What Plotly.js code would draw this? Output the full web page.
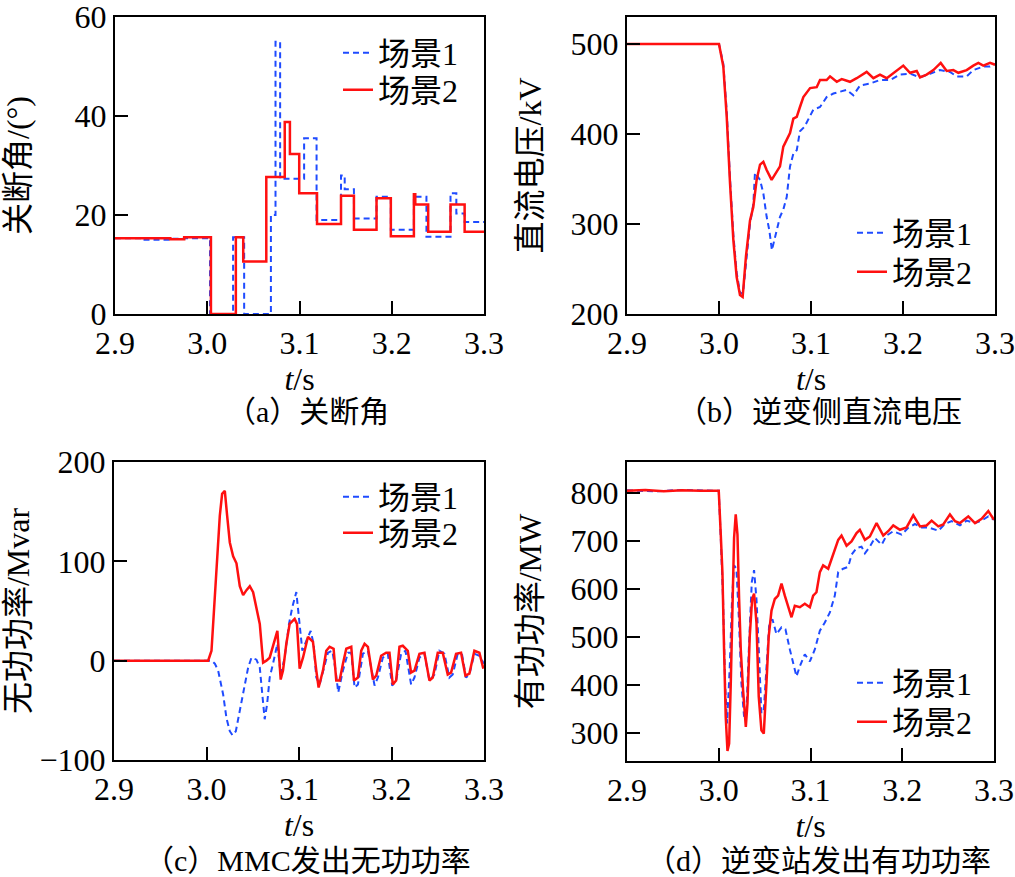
<!DOCTYPE html>
<html>
<head>
<meta charset="utf-8">
<script src="https://cdn.plot.ly/plotly-3.0.1.min.js"></script>
<style>html,body{margin:0;padding:0;background:#fff;}#chart{width:1015px;height:877px;}</style>
</head>
<body>
<div id="chart"></div>
<script>
// ---------- Data ----------
const seriesNames = ["场景1", "场景2"];
const xTickVals = [2.9, 3.0, 3.1, 3.2, 3.3];
const xTickText = ["2.9", "3.0", "3.1", "3.2", "3.3"];

// (a) 关断角 — step signals (value holds from each time until next)
const aT1 = [2.9, 2.93, 2.96, 2.975, 3.003, 3.028, 3.040, 3.069, 3.074, 3.079, 3.105, 3.1185, 3.145, 3.149, 3.159, 3.1835, 3.199, 3.224, 3.2376, 3.2637, 3.270, 3.279, 3.3];
const aV1 = [15.3, 15.0, 15.2, 15.3, 0, 15.5, 0, 20.0, 55.0, 27.3, 35.5, 19.0, 28.0, 25.2, 19.3, 23.7, 17.0, 23.7, 15.6, 24.4, 20.3, 18.6, 18.6];
const aT2 = [2.9, 2.96, 2.975, 3.004, 3.031, 3.039, 3.064, 3.084, 3.0896, 3.0997, 3.119, 3.145, 3.159, 3.1835, 3.199, 3.224, 3.2255, 3.2395, 3.2637, 3.279, 3.3];
const aV2 = [15.3, 15.1, 15.5, 0, 15.5, 10.6, 27.7, 38.8, 32.3, 24.4, 18.2, 23.9, 17.0, 23.4, 15.7, 24.2, 22.1, 16.6, 22.1, 16.6, 16.6];

// (b) 逆变侧直流电压
const bT1 = [2.9, 3.0, 3.0047, 3.0084, 3.012, 3.0156, 3.0192, 3.0228, 3.026, 3.0293, 3.0337, 3.0373, 3.0391, 3.0446, 3.0482, 3.0518, 3.0547, 3.0575, 3.0609, 3.0663, 3.0699, 3.0736, 3.0772, 3.0808, 3.0845, 3.088, 3.0929, 3.099, 3.1025, 3.1098, 3.117, 3.1243, 3.1315, 3.1388, 3.146, 3.1533, 3.1641, 3.175, 3.1859, 3.1967, 3.2076, 3.2185, 3.2293, 3.2402, 3.2511, 3.2583, 3.2692, 3.2764, 3.2873, 3.2946, 3.3];
const bV1 = [500, 500, 478, 425, 350, 288, 246, 224, 222, 258, 300, 322, 357, 349, 334, 308, 293, 271, 286, 308, 316, 330, 364, 378, 382, 403, 408, 419, 427, 430, 441, 445, 447, 449, 443, 454, 456, 460, 460, 466, 467, 463, 467, 471, 469, 464, 464, 471, 475, 475, 478];
const bT2 = [2.9, 3.0, 3.0047, 3.0084, 3.012, 3.0156, 3.0192, 3.0228, 3.0257, 3.0293, 3.0337, 3.0373, 3.0409, 3.0446, 3.0482, 3.0518, 3.0572, 3.0627, 3.0663, 3.0699, 3.0736, 3.0772, 3.0808, 3.0845, 3.088, 3.0917, 3.099, 3.1062, 3.1098, 3.117, 3.1207, 3.128, 3.1334, 3.1424, 3.1497, 3.1605, 3.1678, 3.175, 3.1823, 3.1931, 3.2003, 3.2076, 3.2149, 3.2185, 3.2257, 3.233, 3.241, 3.2475, 3.2547, 3.2602, 3.2692, 3.2764, 3.2819, 3.2873, 3.2946, 3.3];
const bV2 = [500, 500, 475, 419, 345, 282, 241, 221, 219, 264, 304, 319, 349, 366, 369, 360, 349, 358, 364, 386, 393, 401, 417, 419, 430, 441, 451, 452, 460, 460, 464, 458, 461, 458, 462, 469, 462, 466, 462, 470, 476, 468, 470, 463, 466, 471, 479, 470, 471, 468, 471, 476, 479, 476, 479, 477];

// (c) MMC发出无功功率
const cT1 = [2.9, 3.0054, 3.0090, 3.0126, 3.0180, 3.0216, 3.0252, 3.0281, 3.0317, 3.0360, 3.0414, 3.0450, 3.0486, 3.0540, 3.0576, 3.0601, 3.0629, 3.0655, 3.0683, 3.0719, 3.0766, 3.0802, 3.0845, 3.0892, 3.0928, 3.0971, 3.0996, 3.1036, 3.1079, 3.1126, 3.1158, 3.1187, 3.1223, 3.1259, 3.1313, 3.1360, 3.1396, 3.1424, 3.1475, 3.1529, 3.1565, 3.1601, 3.1637, 3.1691, 3.1745, 3.1817, 3.1853, 3.1906, 3.1960, 3.2007, 3.2050, 3.2104, 3.2151, 3.2212, 3.2248, 3.2302, 3.2356, 3.2410, 3.2464, 3.2518, 3.2572, 3.2626, 3.2662, 3.2716, 3.2763, 3.2806, 3.2842, 3.2896, 3.2950, 3.3];
const cV1 = [0, 0, -3, -10, -34, -58, -71, -75, -71, -51, -24, -7, 3, 1, -7, -34, -59, -44, -17, -3, 17, -14, 3, 37, 54, 69, 44, 10, 20, 30, 17, -17, -24, -10, 8, 10, -10, -32, -10, 8, 8, -27, -24, 7, 10, -25, -17, 3, 7, -25, -20, 7, 10, -24, -17, 3, 7, -20, -14, 10, 7, -17, -14, 7, 6, -17, -14, 7, 5, -3];
const cT2 = [2.9, 3.0018, 3.0054, 3.0090, 3.0115, 3.0144, 3.0169, 3.0198, 3.0223, 3.0252, 3.0288, 3.0324, 3.0360, 3.0396, 3.0432, 3.0468, 3.0504, 3.0540, 3.0576, 3.0612, 3.0647, 3.0683, 3.0719, 3.0766, 3.0802, 3.0827, 3.0863, 3.0899, 3.0953, 3.0978, 3.1007, 3.1043, 3.1097, 3.1151, 3.1187, 3.1212, 3.1259, 3.1295, 3.1331, 3.1374, 3.1403, 3.1439, 3.1475, 3.1511, 3.1565, 3.1594, 3.1637, 3.1673, 3.1709, 3.1745, 3.1799, 3.1835, 3.1888, 3.1942, 3.1978, 3.2014, 3.2050, 3.2086, 3.2122, 3.2176, 3.2212, 3.2248, 3.2302, 3.2356, 3.2410, 3.2446, 3.2500, 3.2554, 3.2608, 3.2644, 3.2698, 3.2752, 3.2799, 3.2842, 3.2896, 3.2950, 3.2993];
const cV2 = [0, 0, 10, 61, 95, 146, 168, 171, 146, 119, 105, 98, 75, 66, 71, 75, 69, 54, 37, -2, 0, 3, 14, 30, -19, -10, 17, 37, 42, 37, -8, 3, 24, 19, -10, -27, -10, 10, 14, 12, -20, -20, -3, 12, 14, -20, -17, 10, 17, 14, -19, -15, 5, 8, 8, -24, -20, 14, 15, 10, -12, -10, 7, 8, -20, -17, 8, 8, -14, -12, 7, 8, -15, -13, 10, 8, -8];

// (d) 逆变站发出有功功率
const dT1 = [2.9, 2.93, 2.96, 2.99, 3.0, 3.0022, 3.0047, 3.0069, 3.0091, 3.0120, 3.0145, 3.0167, 3.0193, 3.0218, 3.0247, 3.0276, 3.0302, 3.0331, 3.0360, 3.0385, 3.0411, 3.0440, 3.0465, 3.0491, 3.0520, 3.0549, 3.0585, 3.0629, 3.0684, 3.0727, 3.0775, 3.0811, 3.0847, 3.0884, 3.0938, 3.0993, 3.1047, 3.1102, 3.1156, 3.1211, 3.1265, 3.1302, 3.1356, 3.1411, 3.1447, 3.1502, 3.1556, 3.1593, 3.1647, 3.1702, 3.1775, 3.1829, 3.1902, 3.1993, 3.2065, 3.2138, 3.2211, 3.2284, 3.2393, 3.2465, 3.2538, 3.2629, 3.2702, 3.2793, 3.2865, 3.2938, 3.3];
const dV1 = [805, 803, 806, 804, 804, 706, 579, 404, 320, 439, 579, 649, 642, 544, 404, 334, 348, 488, 614, 639, 579, 460, 341, 348, 432, 523, 537, 506, 520, 516, 474, 446, 418, 439, 464, 449, 474, 513, 530, 551, 586, 635, 642, 646, 671, 685, 688, 674, 688, 706, 692, 711, 720, 713, 727, 735, 728, 728, 721, 735, 741, 732, 742, 737, 742, 751, 744];
const dT2 = [2.9, 2.92, 2.94, 2.96, 2.98, 3.0, 3.0022, 3.0040, 3.0058, 3.0076, 3.0095, 3.0113, 3.0131, 3.0149, 3.0167, 3.0185, 3.0204, 3.0222, 3.0240, 3.0265, 3.0295, 3.0313, 3.0338, 3.0364, 3.0385, 3.0411, 3.0436, 3.0465, 3.0491, 3.0520, 3.0545, 3.0575, 3.0611, 3.0647, 3.0684, 3.0720, 3.0756, 3.0793, 3.0829, 3.0884, 3.0938, 3.0993, 3.1029, 3.1065, 3.1102, 3.1138, 3.1193, 3.1247, 3.1302, 3.1338, 3.1393, 3.1447, 3.1502, 3.1538, 3.1593, 3.1647, 3.1720, 3.1793, 3.1847, 3.1902, 3.1975, 3.2047, 3.2120, 3.2193, 3.2265, 3.2320, 3.2393, 3.2447, 3.2520, 3.2575, 3.2629, 3.2720, 3.2793, 3.2865, 3.2938, 3.2975, 3.3];
const dV2 = [804, 806, 803, 805, 804, 804, 713, 635, 474, 334, 263, 278, 404, 579, 706, 755, 713, 579, 474, 390, 313, 362, 502, 579, 590, 530, 376, 306, 299, 404, 502, 555, 579, 586, 611, 586, 562, 541, 565, 562, 569, 562, 586, 593, 635, 649, 642, 671, 702, 711, 690, 699, 716, 723, 702, 709, 737, 711, 720, 732, 723, 728, 753, 730, 732, 742, 730, 734, 755, 741, 737, 751, 737, 746, 762, 751, 744];

const yTitles = ["关断角/(°)", "直流电压/kV", "无功功率/Mvar", "有功功率/MW"];
const captions = ["（a）关断角", "（b）逆变侧直流电压", "（c）MMC发出无功功率", "（d）逆变站发出有功功率"];
const yRanges = [[0, 60], [200, 530], [-100, 200], [242, 864]];
const yTicks = [[0, 20, 40, 60], [200, 300, 400, 500], [-100, 0, 100, 200], [300, 400, 500, 600, 700, 800]];

// ---------- Styling ----------
const FONT = "Liberation Serif, Noto Sans CJK SC, serif";
const BLUE = "#1f4bff";
const RED = "#ff1010";
const W = 1015, H = 877;

// plot boxes in pixels [left, right, top, bottom]
const boxes = [[115, 484, 17, 314], [627, 995, 17, 314], [114, 484, 462, 760], [627, 994, 462, 761]];
const legendPos = [[338, 53, 90], [852, 233, 272], [338, 497, 533], [852, 683, 722]];
const titleStandoff = [38, 19, 1, 19];

const dataSets = [
  [[aT1, aV1], [aT2, aV2]],
  [[bT1, bV1], [bT2, bV2]],
  [[cT1, cV1], [cT2, cV2]],
  [[dT1, dV1], [dT2, dV2]]
];
const stepShape = [true, false, false, false];

const traces = [];
const layout = {
  width: W, height: H,
  margin: {l: 0, r: 0, t: 0, b: 0},
  paper_bgcolor: "#fff", plot_bgcolor: "#fff",
  font: {family: FONT, size: 32, color: "#000"},
  showlegend: true,
  annotations: []
};

let legendIdx = 1;
for (let i = 0; i < 4; i++) {
  const [l, r, t, b] = boxes[i];
  const xa = i === 0 ? "xaxis" : "xaxis" + (i + 1);
  const ya = i === 0 ? "yaxis" : "yaxis" + (i + 1);
  const xr = i === 0 ? "x" : "x" + (i + 1);
  const yr = i === 0 ? "y" : "y" + (i + 1);
  layout[xa] = {
    domain: [l / W, r / W], anchor: yr, range: [2.9, 3.3],
    tickvals: xTickVals, ticktext: xTickText, ticks: "inside", ticklen: 13, tickwidth: 2, tickcolor: "#000",
    showline: true, mirror: true, linecolor: "#000", linewidth: 2, showgrid: false, zeroline: false,
    ticklabeloverflow: "allow",
    tickfont: {family: FONT, size: 32, color: "#000"},
    title: {text: "<i>t</i>/s", font: {family: FONT, size: 32, color: "#000"}, standoff: 2}
  };
  layout[ya] = {
    domain: [1 - b / H, 1 - t / H], anchor: xr, range: yRanges[i],
    tickvals: yTicks[i], ticks: "inside", ticklen: 13, tickwidth: 2, tickcolor: "#000",
    showline: true, mirror: true, linecolor: "#000", linewidth: 2, showgrid: false, zeroline: false,
    ticklabeloverflow: "allow",
    tickfont: {family: FONT, size: 32, color: "#000"},
    title: {text: yTitles[i], font: {family: FONT, size: 32, color: "#000"}, standoff: titleStandoff[i]}
  };
  for (let s = 0; s < 2; s++) {
    const legName = legendIdx === 1 ? "legend" : "legend" + legendIdx;
    traces.push({
      x: dataSets[i][s][0], y: dataSets[i][s][1], xaxis: xr, yaxis: yr,
      type: "scatter", mode: "lines", name: seriesNames[s], legend: legName,
      line: s === 0 ? {color: BLUE, width: 2, dash: "6px,4px", shape: stepShape[i] ? "hv" : "linear"}
                    : {color: RED, width: 2.5, shape: stepShape[i] ? "hv" : "linear"}
    });
    layout[legName] = {
      x: legendPos[i][0] / W, y: 1 - legendPos[i][1 + s] / H, xanchor: "left", yanchor: "middle",
      bgcolor: "rgba(0,0,0,0)", borderwidth: 0,
      font: {family: FONT, size: 32, color: "#000"}, itemwidth: 30
    };
    legendIdx++;
  }
  layout.annotations.push({
    xref: "paper", yref: "paper", x: ((l + r) / 2 + 8) / W, y: 1 - (i < 2 ? 411 : 860) / H,
    xanchor: "center", yanchor: "middle", showarrow: false, text: captions[i],
    font: {family: FONT, size: 30, color: "#000"}
  });
}

Plotly.newPlot("chart", traces, layout, {staticPlot: true, displayModeBar: false});
</script>
</body>
</html>
